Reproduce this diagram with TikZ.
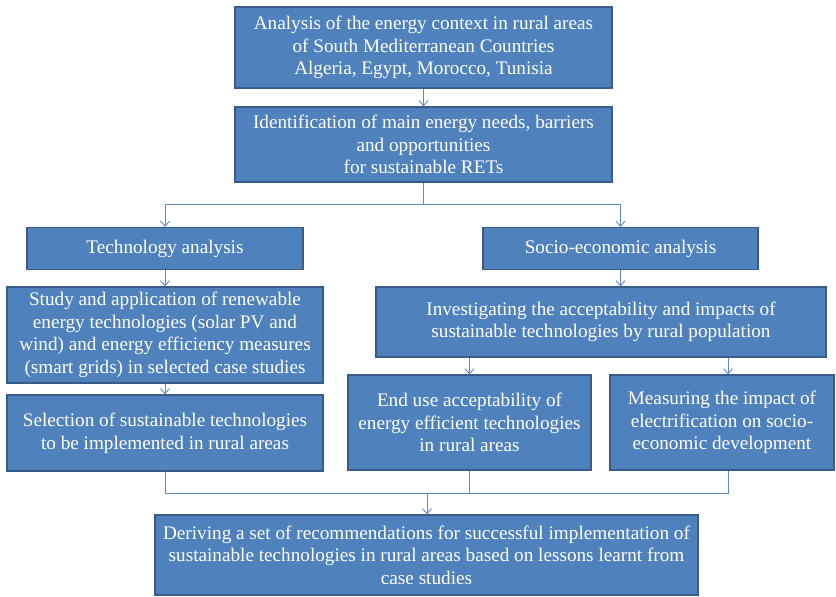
\documentclass[tikz,border=0pt]{standalone}
\usepackage{fontspec}
\setmainfont{Liberation Serif}
\usetikzlibrary{arrows.meta,calc}

\definecolor{boxfill}{RGB}{79,129,189}
\definecolor{boxline}{RGB}{56,93,138}
\definecolor{linkcol}{RGB}{90,138,200}

\tikzset{
  box/.style={draw=boxline, line width=1.3pt, fill=boxfill, text=white,
    align=center, inner sep=0pt,
    font=\fontsize{19.2}{22.6}\selectfont},
  joint/.style={draw=linkcol, line width=0.9pt},
  link/.style={joint, -{Straight Barb[length=5pt,width=9pt]}}
}

\begin{document}
\begin{tikzpicture}[x=1pt,y=-1pt]
  \useasboundingbox (0,0) rectangle (836,597);

  \node[box, minimum width=377pt, minimum height=81pt] (context) at (423.5,47.5)
    {Analysis of the energy context in rural areas\\ of South Mediterranean Countries\\ Algeria, Egypt, Morocco, Tunisia};
  \node[box, minimum width=377pt, minimum height=75pt] (needs) at (423.5,144.5)
    {Identification of main energy needs, barriers\\ and opportunities\\ for sustainable RETs};
  \node[box, minimum width=276pt, minimum height=42pt] (tech) at (165,248.5)
    {Technology analysis};
  \node[box, minimum width=275pt, minimum height=42pt] (socio) at (620.5,248.5)
    {Socio-economic analysis};
  \node[box, minimum width=316pt, minimum height=96pt] (study) at (165,335)
    {Study and application of renewable\\ energy technologies (solar PV and\\ wind) and energy efficiency measures\\ (smart grids) in selected case studies};
  \node[box, minimum width=316pt, minimum height=76pt] (select) at (165,433)
    {Selection of sustainable technologies\\ to be implemented in rural areas};
  \node[box, minimum width=450pt, minimum height=70pt] (invest) at (601,322)
    {Investigating the acceptability and impacts of\\ sustainable technologies by rural population};
  \node[box, minimum width=243pt, minimum height=95pt] (enduse) at (469.5,422.5)
    {End use acceptability of\\ energy efficient technologies\\ in rural areas};
  \node[box, minimum width=224pt, minimum height=95pt] (impact) at (722,422.5)
    {Measuring the impact of\\ electrification on socio-\\ economic development};
  \node[box, minimum width=543pt, minimum height=80pt] (recom) at (426.5,555)
    {Deriving a set of recommendations for successful implementation of\\ sustainable technologies in rural areas based on lessons learnt from\\ case studies};

  \coordinate (split) at (423.5,204);
  \coordinate (merge) at (427,493);
  \coordinate (impin) at ($(impact.north)+(6,0)$);
  \coordinate (impout) at ($(impact.south)+(6,0)$);

  \draw[link] (context) -- (needs);
  \draw[joint] (needs) -- (split);
  \draw[link] (split) -| (tech);
  \draw[link] (split) -| (socio);
  \draw[link] (tech) -- (study);
  \draw[link] (study) -- (select);
  \draw[link] (socio.south) -- (socio.south |- invest.north);
  \draw[link] (enduse.north |- invest.south) -- (enduse.north);
  \draw[link] (impin |- invest.south) -- (impin);
  \draw[joint] (select.south) |- (merge -| impout) -- (impout);
  \draw[joint] (enduse.south) -- (enduse.south |- merge);
  \draw[link] (merge) -- (recom.north -| merge);
\end{tikzpicture}
\end{document}
